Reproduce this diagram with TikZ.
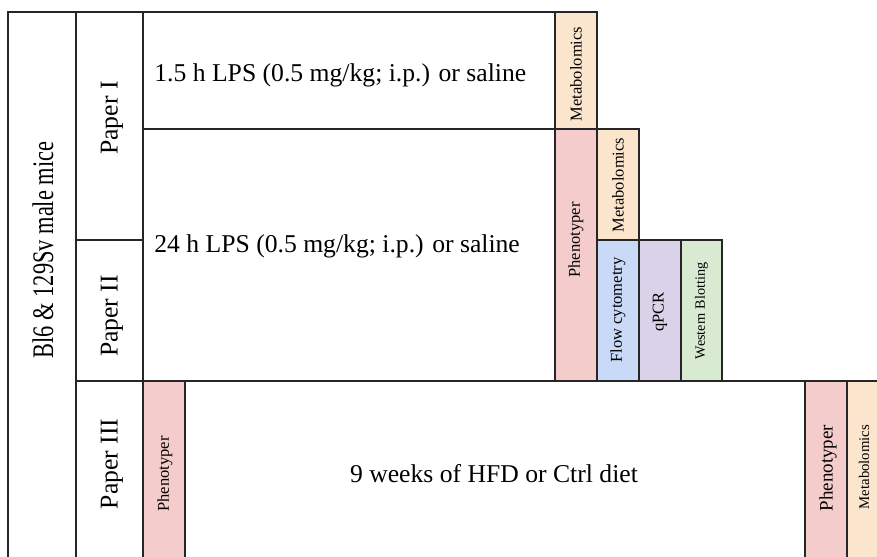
\documentclass[tikz,border=0pt]{standalone}
\usepackage{fontspec}
\setmainfont{Liberation Serif}
\usepackage{graphicx}

\definecolor{phenopink}{HTML}{F4CCCC}
\definecolor{metaorange}{HTML}{FCE5CD}
\definecolor{flowblue}{HTML}{C9DAF8}
\definecolor{pcrpurple}{HTML}{D9D2E9}
\definecolor{blotgreen}{HTML}{D9EAD3}

\tikzset{
	cell/.style={draw=black!85,line width=0.9pt},
	bigtext/.style={font=\fontsize{14.6}{17}\selectfont,inner sep=0pt},
	vlabel/.style={rotate=90,font=\fontsize{9.4}{11}\selectfont,inner sep=0pt},
}

\begin{document}
\begin{tikzpicture}[x=0.02cm,y=-0.02cm]
		\clip (0,0) rectangle (877,556);
		% strain and paper columns
		\draw[cell] (8,12) rectangle (76,580);
		\draw[cell] (76,12) rectangle (143,240);
		\draw[cell] (76,240) rectangle (143,381);
		\draw[cell] (76,381) rectangle (143,580);
		% LPS challenges
		\draw[cell] (143,12) rectangle (555,129);
		\draw[cell] (143,129) rectangle (555,381);
		% readouts after LPS
		\draw[cell,fill=metaorange] (555,12) rectangle (597,129);
		\draw[cell,fill=phenopink] (555,129) rectangle (597,381);
		\draw[cell,fill=metaorange] (597,129) rectangle (639,240);
		\draw[cell,fill=flowblue] (597,240) rectangle (639,381);
		\draw[cell,fill=pcrpurple] (639,240) rectangle (681,381);
		\draw[cell,fill=blotgreen] (681,240) rectangle (722,381);
		% diet study
		\draw[cell,fill=phenopink] (143,381) rectangle (185,580);
		\draw[cell] (185,381) rectangle (805,580);
		\draw[cell,fill=phenopink] (805,381) rectangle (847,580);
		\draw[cell,fill=metaorange] (847,381) rectangle (900,580);

		\node[bigtext,rotate=90,font=\fontsize{17}{20}\selectfont] (mice) at (43,250) {\scalebox{0.75}[1]{Bl6 \& 129Sv male mice}};
		\node[bigtext,rotate=90] (paperI) at (112,118) {Paper I};
		\node[bigtext,rotate=90] (paperII) at (112,316) {Paper II};
		\node[bigtext,rotate=90] (paperIII) at (112,464) {Paper III};

		\node[bigtext,anchor=west] (lpsshort) at (154,75) {1.5 h LPS (0.5 mg/kg; i.p.) or saline};
		\node[bigtext,anchor=west] (lpslong) at (154,246) {24 h LPS (0.5 mg/kg; i.p.) or saline};
		\node[bigtext] (hfd) at (494,474) {9 weeks of HFD or Ctrl diet};

		\node[vlabel] (metaI) at (576,74) {Metabolomics};
		\node[vlabel] (phenoII) at (576,240) {Phenotyper};
		\node[vlabel] (metaII) at (618,185) {Metabolomics};
		\node[vlabel] (flow) at (618,310) {Flow cytometry};
		\node[vlabel] (qpcr) at (660,312) {qPCR};
		\node[vlabel,font=\fontsize{8.1}{10}\selectfont] (blot) at (701.5,311) {Western Blotting};
		\node[vlabel] (phenoIIIa) at (165,474) {Phenotyper};
		\node[vlabel,font=\fontsize{10.8}{12}\selectfont] (phenoIIIb) at (828,468) {Phenotyper};
		\node[vlabel,font=\fontsize{8.4}{10}\selectfont] (metaIII) at (864,467) {Metabolomics};
\end{tikzpicture}
\end{document}
